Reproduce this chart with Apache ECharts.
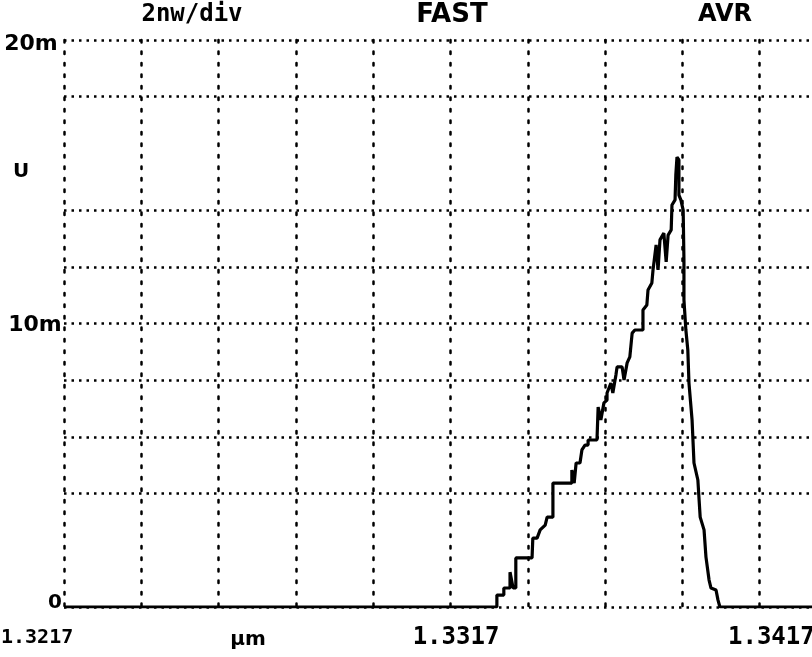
<!DOCTYPE html>
<html>
<head>
<meta charset="utf-8">
<script src="https://cdn.jsdelivr.net/npm/echarts@6/dist/echarts.min.js"></script>
<style>
html,body{margin:0;padding:0;background:#fff;overflow:hidden;width:812px;height:657px;}
#chart{width:840px;height:657px;}
</style>
</head>
<body>
<div id="chart"></div>
<script>
// Wavelength (um) of trace vertices
var wavelength = [1.32170, 1.33290, 1.33290, 1.33308, 1.33308, 1.33324, 1.33324, 1.33329, 1.33332, 1.33339,
  1.33339, 1.33381, 1.33383, 1.33394, 1.33402, 1.33415, 1.33420, 1.33435, 1.33435, 1.33484,
  1.33484, 1.33490, 1.33495, 1.33505, 1.33510, 1.33518, 1.33526, 1.33526, 1.33549, 1.33552,
  1.33559, 1.33567, 1.33575, 1.33575, 1.33585, 1.33590, 1.33598, 1.33601, 1.33614, 1.33619,
  1.33627, 1.33634, 1.33640, 1.33647, 1.33668, 1.33668, 1.33678, 1.33681, 1.33691, 1.33694,
  1.33702, 1.33707, 1.33712, 1.33717, 1.33722, 1.33728, 1.33733, 1.33741, 1.33743, 1.33751,
  1.33753, 1.33756, 1.33761, 1.33761, 1.33766, 1.33772, 1.33774, 1.33774, 1.33779, 1.33784,
  1.33787, 1.33795, 1.33800, 1.33810, 1.33816, 1.33826, 1.33831, 1.33839, 1.33844, 1.33857,
  1.33862, 1.33867, 1.34170];
// Power (2 per div)
var power = [0, 0, 0.42, 0.42, 0.67, 0.67, 1.23, 1.23, 0.67, 0.67,
  1.73, 1.73, 2.43, 2.43, 2.72, 2.89, 3.17, 3.17, 4.37, 4.37,
  4.83, 4.37, 5.08, 5.08, 5.54, 5.71, 5.71, 5.89, 5.89, 7.05,
  6.60, 7.20, 7.30, 7.55, 7.90, 7.55, 8.18, 8.47, 8.47, 8.01,
  8.61, 8.82, 9.66, 9.77, 9.77, 10.48, 10.65, 11.18, 11.43, 11.89,
  12.77, 11.89, 12.95, 12.95, 13.19, 12.17, 13.12, 13.30, 14.18, 14.36,
  15.24, 15.87, 15.77, 14.53, 14.36, 14.00, 12.24, 10.83, 9.77, 9.07,
  7.90, 6.60, 5.08, 4.48, 3.17, 2.72, 1.76, 0.95, 0.67, 0.60,
  0.25, 0, 0];
var startWavelength = 1.3217;
var hGridValues = [0, 4, 6, 8, 10, 12, 14, 18, 20];
var headerTexts = ['2nw/div', 'FAST', 'AVR'];
var yLabels = ['20m', '10m', '0'];
var xLabels = ['1.3217', 'μm', '1.3317', '1.3417'];

var chart = echarts.init(document.getElementById('chart'), null, {renderer: 'canvas'});
var traceData = wavelength.map(function (w, i) { return [(w - startWavelength) * 1000, power[i]]; });

function txt(t, x, y, align, size, fam) {
  return {type: 'text', z: 10, style: {text: t, x: x, y: y, textAlign: align || 'center', textVerticalAlign: 'middle',
    font: 'bold ' + (size || 20) + 'px ' + (fam || '"DejaVu Sans Mono", monospace'), fill: '#000'}};
}
var SANS = '"DejaVu Sans", sans-serif';

var option = {
  backgroundColor: '#fff',
  animation: false,
  grid: {left: 64, right: 3, top: 40, bottom: 50},
  xAxis: {
    type: 'value', min: 0, max: 20, interval: 2,
    axisLine: {show: false}, axisTick: {show: false}, axisLabel: {show: false},
    splitLine: {show: true, lineStyle: {color: '#000', width: 2.5, type: [2.5, 9], cap: 'round'}}
  },
  yAxis: {
    type: 'value', min: 0, max: 20, interval: 2,
    axisLine: {show: false}, axisTick: {show: false}, axisLabel: {show: false},
    splitLine: {show: false}
  },
  series: [
    {
      type: 'line', data: [], z: 1, silent: true,
      markLine: {
        silent: true, symbol: ['none', 'none'], label: {show: false},
        lineStyle: {color: '#000', width: 2.5, type: [2.5, 5]},
        data: hGridValues.map(function (v) { return {yAxis: v}; })
      }
    },
    {
      type: 'line', data: traceData, z: 5, showSymbol: false, symbol: 'none',
      lineStyle: {color: '#000', width: 3.2}
    }
  ],
  graphic: [
    txt(headerTexts[0], 192, 15, 'center', 24),
    txt(headerTexts[1], 452, 15, 'center', 26, SANS),
    txt(headerTexts[2], 725, 15, 'center', 24, SANS),
    txt(yLabels[0], 31, 44, 'center', 22, SANS),
    txt(yLabels[1], 35, 325, 'center', 22, SANS),
    txt(yLabels[2], 55, 603, 'center', 20, SANS),
    txt('U', 21, 172, 'center', 20, SANS),
    txt(xLabels[0], 1, 638, 'left', 20),
    txt(xLabels[1], 248, 640, 'center', 20, SANS),
    txt(xLabels[2], 456, 638, 'center', 24),
    txt(xLabels[3], 728, 638, 'left', 24)
  ]
};
chart.setOption(option);
</script>
</body>
</html>
